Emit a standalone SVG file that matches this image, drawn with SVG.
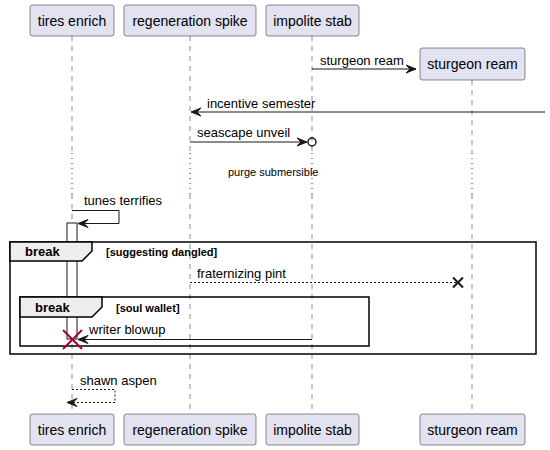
<svg xmlns="http://www.w3.org/2000/svg" width="550" height="450" viewBox="0 0 550 450">
<defs>
<style>
.part rect{fill:#E2E2F0;stroke:#181818;stroke-width:0.5}
.part text{font-family:"Liberation Sans",Arial,sans-serif;font-size:14px;fill:#000;text-anchor:middle}
.life{stroke:#181818;stroke-width:0.5;stroke-dasharray:5,5;fill:none}
.delay{stroke:#A80036;stroke-width:1;stroke-dasharray:1,4;fill:none}
.msg{stroke:#181818;stroke-width:1;fill:none}
.dash{stroke-dasharray:2,2}
.head{fill:#181818;stroke:#181818;stroke-width:1}
.lbl{font-family:"Liberation Sans",Arial,sans-serif;font-size:13px;fill:#000}
.small{font-family:"Liberation Sans",Arial,sans-serif;font-size:11px;fill:#000}
.frame{fill:none;stroke:#000;stroke-width:1.5}
.tab{fill:#EEEEEE;stroke:#000;stroke-width:1.5}
.ftitle{font-family:"Liberation Sans",Arial,sans-serif;font-size:13px;font-weight:bold;fill:#000}
.fcond{font-family:"Liberation Sans",Arial,sans-serif;font-size:11px;font-weight:bold;fill:#000}
</style>
</defs>
<g id="lifelines">
<line class="life" x1="72" y1="36" x2="72" y2="153"/>
<line class="life" x1="190" y1="36" x2="190" y2="153"/>
<line class="life" x1="312" y1="36" x2="312" y2="153"/>
<line class="life" x1="472" y1="80" x2="472" y2="153"/>
<line class="delay" x1="72" y1="153" x2="72" y2="194"/>
<line class="delay" x1="190" y1="153" x2="190" y2="194"/>
<line class="delay" x1="312" y1="153" x2="312" y2="194"/>
<line class="delay" x1="472" y1="153" x2="472" y2="194"/>
<line class="life" x1="72" y1="194" x2="72" y2="414"/>
<line class="life" x1="190" y1="194" x2="190" y2="414"/>
<line class="life" x1="312" y1="194" x2="312" y2="414"/>
<line class="life" x1="472" y1="194" x2="472" y2="414"/>
</g>
<g id="activation">
<rect x="67" y="223" width="10" height="116" fill="#FFFFFF" stroke="#181818" stroke-width="1"/>
</g>
<g id="p-tires-top" class="part"><rect x="30" y="5" width="84" height="31" rx="2.5"/><text x="72" y="25.5">tires enrich</text></g>
<g id="p-regen-top" class="part"><rect x="124" y="5" width="132" height="31" rx="2.5"/><text x="190" y="25.5">regeneration spike</text></g>
<g id="p-impolite-top" class="part"><rect x="266" y="5" width="93" height="31" rx="2.5"/><text x="312.5" y="25.5">impolite stab</text></g>
<g id="p-sturgeon-top" class="part"><rect x="420" y="48" width="105" height="32" rx="2.5"/><text x="472.5" y="69">sturgeon ream</text></g>
<g id="p-tires-bot" class="part"><rect x="30" y="414" width="84" height="31" rx="2.5"/><text x="72" y="434.5">tires enrich</text></g>
<g id="p-regen-bot" class="part"><rect x="124" y="414" width="132" height="31" rx="2.5"/><text x="190" y="434.5">regeneration spike</text></g>
<g id="p-impolite-bot" class="part"><rect x="266" y="414" width="93" height="31" rx="2.5"/><text x="312.5" y="434.5">impolite stab</text></g>
<g id="p-sturgeon-bot" class="part"><rect x="420" y="414" width="105" height="31" rx="2.5"/><text x="472.5" y="434.5">sturgeon ream</text></g>
<g id="frames">
<rect class="frame" x="10" y="242" width="526" height="112"/>
<path class="tab" d="M10,242 L92,242 L92,251 L82,261 L10,261 Z"/>
<text class="ftitle" x="25" y="256">break</text>
<text class="fcond" x="106" y="256">[suggesting dangled]</text>
<rect class="frame" x="20" y="297" width="349" height="49"/>
<path class="tab" d="M20,297 L102,297 L102,307 L92,317 L20,317 Z"/>
<text class="ftitle" x="35" y="312">break</text>
<text class="fcond" x="116" y="312">[soul wallet]</text>
</g>
<g id="connectors">
<line class="msg" x1="312" y1="69" x2="416" y2="69"/>
<polygon class="head" points="406,65 416,69 406,73 410,69"/>
<text class="lbl" x="320" y="65">sturgeon ream</text>
<line class="msg" x1="545" y1="112" x2="192" y2="112"/>
<polygon class="head" points="201,108 191,112 201,116 197,112"/>
<text class="lbl" x="207" y="108">incentive semester</text>
<line class="msg" x1="190" y1="142" x2="306" y2="142"/>
<polygon class="head" points="297,138 307,142 297,146 301,142"/>
<circle cx="312" cy="142" r="4" fill="none" stroke="#181818" stroke-width="1.5"/>
<text class="lbl" x="197" y="137">seascape unveil</text>
<text class="small" x="228" y="176">purge submersible</text>
<polyline class="msg" points="72,210.5 119,210.5 119,223.5 79,223.5"/>
<polygon class="head" points="88,219.5 78,223.5 88,227.5 84,223.5"/>
<text class="lbl" x="84" y="205">tunes terrifies</text>
<line class="msg dash" x1="190" y1="282.5" x2="458" y2="282.5"/>
<path d="M453,277.5 L463,287.5 M453,287.5 L463,277.5" stroke="#181818" stroke-width="2" fill="none"/>
<text class="lbl" x="197" y="278">fraternizing pint</text>
<line class="msg" x1="312" y1="339.5" x2="79" y2="339.5"/>
<polygon class="head" points="88,335.5 78,339.5 88,343.5 84,339.5"/>
<text class="lbl" x="89" y="334">writer blowup</text>
<path d="M63,330 L82,349 M63,349 L82,330" stroke="#A80036" stroke-width="2" fill="none"/>
<polyline class="msg dash" points="72,389.5 115,389.5 115,402.5 68,402.5"/>
<polygon class="head" points="77,398.5 67,402.5 77,406.5 73,402.5"/>
<text class="lbl" x="80" y="385">shawn aspen</text>
</g>
</svg>
